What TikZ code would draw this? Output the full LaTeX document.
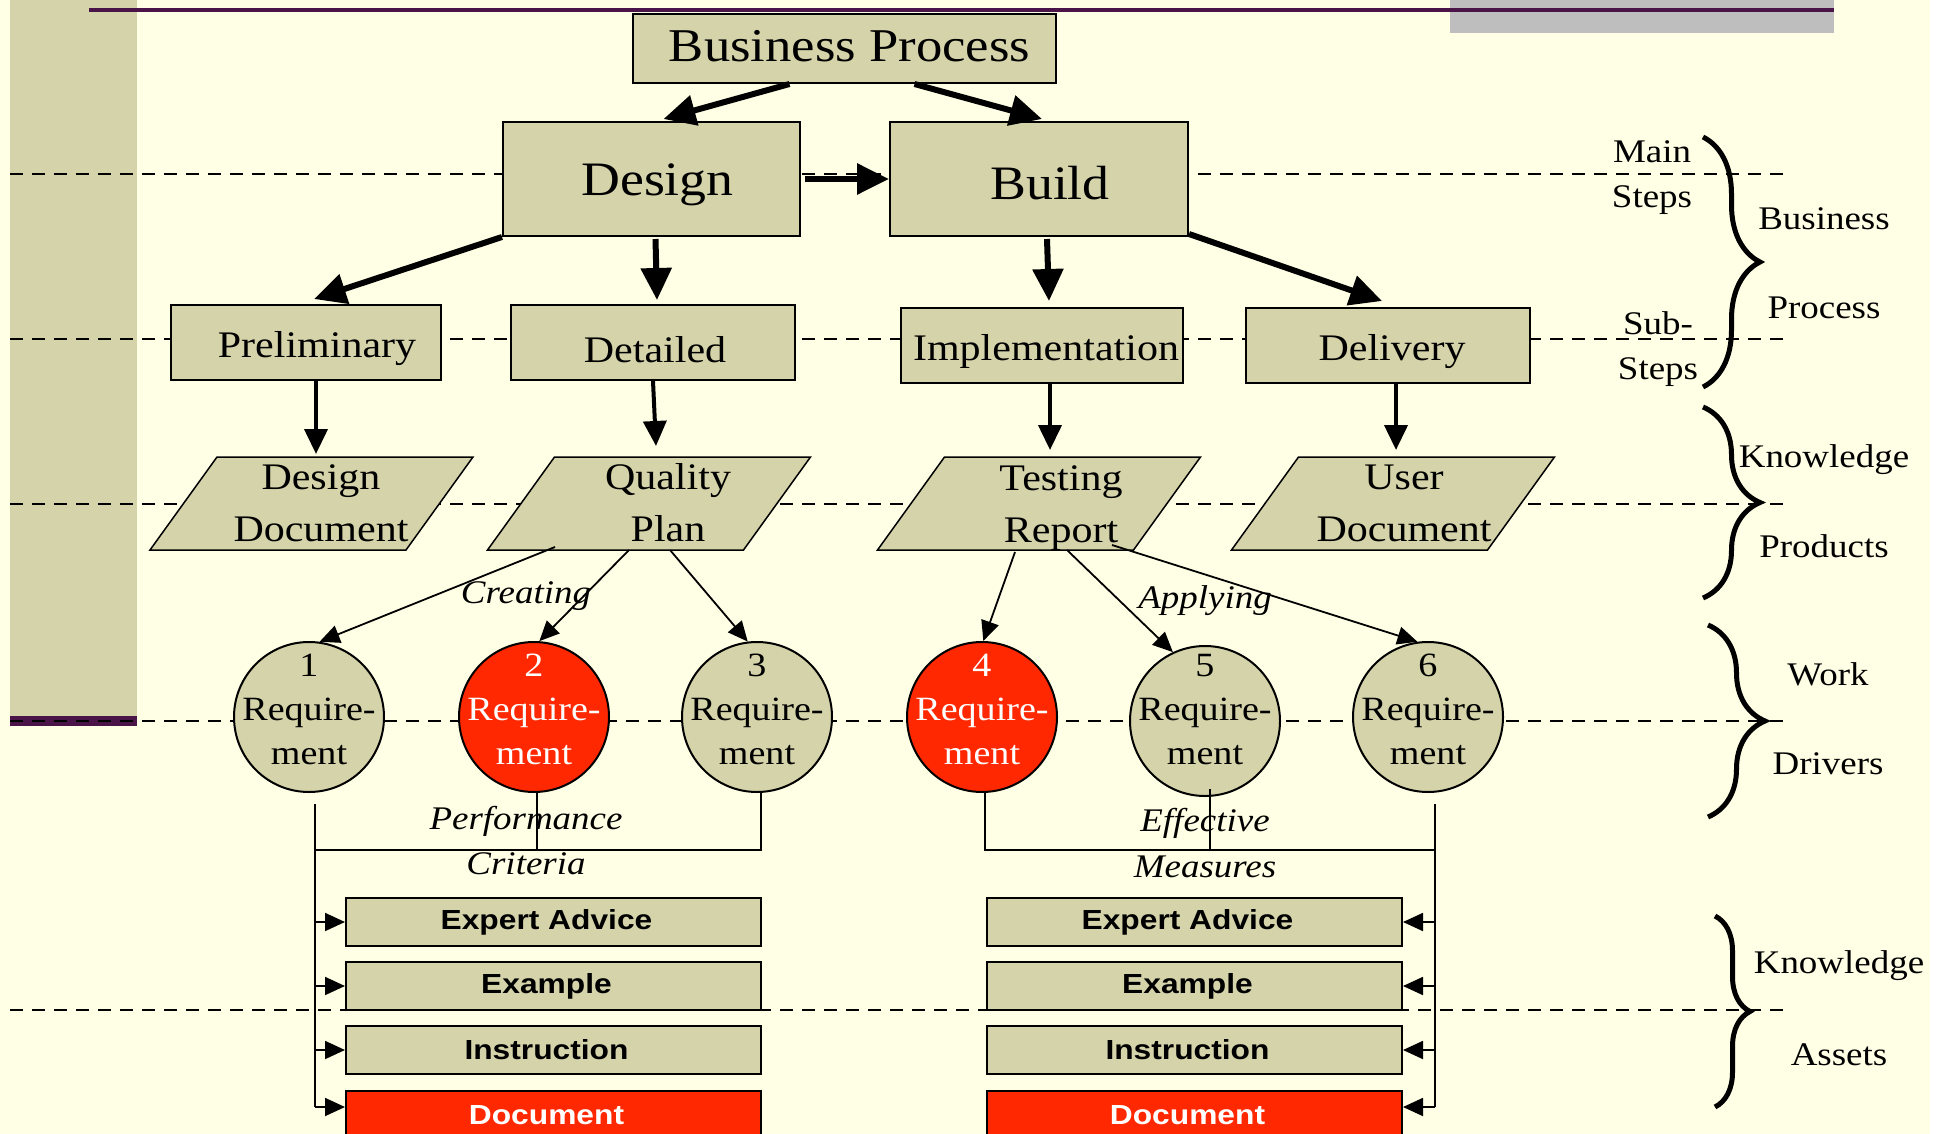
\documentclass[tikz,border=0pt]{standalone}
\usepackage{fontspec}
\setmainfont{Liberation Serif}[FakeStretch=1.12]
\newfontfamily\arialfont{Liberation Sans}[FakeStretch=1.15]
\usetikzlibrary{arrows.meta,decorations.pathreplacing}
\definecolor{cream}{RGB}{255,255,230}
\definecolor{khakifill}{RGB}{212,211,169}
\definecolor{redfill}{RGB}{255,40,0}
\definecolor{plum}{RGB}{75,20,72}
\definecolor{greyband}{RGB}{190,190,190}
\newcommand\drawpara[1]{\draw[line width=1.5pt, fill=khakifill] ([shift={(-161.5,46.5)}]#1) -- ([shift={(-94.5,-46.5)}]#1) -- ([shift={(161.5,-46.5)}]#1) -- ([shift={(94.5,46.5)}]#1) -- cycle;}
% move text inside a node by (dx right, dy down) without changing the node size
\newcommand\mvtxt[3]{\hspace*{#1}\raisebox{-#2}[\height][\depth]{#3}}
\newcommand\reqtxt[2]{\raisebox{#2}[\height][\depth]{\begin{tabular}{@{}c@{}}#1\\Require-\\ment\end{tabular}}}
\newcommand\abtxt[1]{#1\hspace*{14pt}}
\begin{document}
\begin{tikzpicture}[x=1pt,y=-1pt,
  box/.style={draw=black, line width=2pt, fill=khakifill, inner sep=0pt},
  fA/.style={font=\fontsize{47}{56}\selectfont},
  fB/.style={font=\fontsize{48}{58}\selectfont},
  fC/.style={font=\fontsize{37.5}{52}\selectfont},
  itl/.style={font=\fontsize{33}{43}\selectfont\itshape},
  side/.style={font=\fontsize{33}{45}\selectfont, align=center},
  req/.style={circle, draw=black, line width=2pt, fill=khakifill, minimum size=150pt, inner sep=-40pt, font=\fontsize{34}{44}\selectfont},
  redreq/.style={req, fill=redfill, text=white},
  abox/.style={draw=black, line width=2pt, fill=khakifill, minimum width=415pt, minimum height=48pt, inner sep=0pt, font=\fontsize{27.6}{34}\arialfont\bfseries},
  rbox/.style={abox, fill=redfill, text=white},
  dashline/.style={line width=2.5pt, dash pattern=on 13pt off 9pt},
  thickarrow/.style={line width=6pt, -{Triangle[length=32pt,width=30pt]}},
  medarrow/.style={line width=4pt, -{Triangle[length=25pt,width=23pt]}},
  thinarrow/.style={line width=1.8pt, -{Triangle[length=20pt,width=18pt]}},
  plainline/.style={line width=1.8pt},
  bracestyle/.style={line width=5pt, decorate}
]
\useasboundingbox (0,0) rectangle (1946,1134);
\fill[white] (0,0) rectangle (1946,1134);
\fill[cream] (0,0) rectangle (1930,1134);
\fill[khakifill] (10,0) rectangle (137,726);
\fill[plum] (10,716) rectangle (137,726);
\fill[greyband] (1450,0) rectangle (1834,33);
\draw[plum, line width=4pt] (89,10) -- (1834,10);
\foreach \yy in {174,339,504,721,1010} \draw[dashline] (10,\yy) -- (1789,\yy);

% main boxes
\node[box, minimum width=423pt, minimum height=69pt, fA] (bp) at (844.5,48.5) {\mvtxt{10pt}{-2pt}{Business Process}};
\node[box, minimum width=297pt, minimum height=114pt, fB] (design) at (651.5,179) {\mvtxt{12pt}{6pt}{Design}};
\node[box, minimum width=298pt, minimum height=114pt, fB] (build) at (1039,179) {\mvtxt{22pt}{4pt}{Build}};
\node[box, minimum width=270pt, minimum height=75pt, fC] (prelim) at (306,342.5) {\mvtxt{22pt}{6pt}{Preliminary}};
\node[box, minimum width=284pt, minimum height=75pt, fC] (detailed) at (653,342.5) {\mvtxt{4pt}{7pt}{Detailed}};
\node[box, minimum width=282pt, minimum height=75pt, fC] (impl) at (1042,345.5) {\mvtxt{8pt}{6pt}{Implementation}};
\node[box, minimum width=284pt, minimum height=75pt, fC] (deliv) at (1388,345.5) {\mvtxt{8pt}{6pt}{Delivery}};

% parallelograms
\coordinate (pdd) at (311.5,503.5); \drawpara{pdd}
\coordinate (pqp) at (649,503.5); \drawpara{pqp}
\coordinate (ptr) at (1039,503.5); \drawpara{ptr}
\coordinate (pud) at (1393,503.5); \drawpara{pud}
\node[fC, align=center, inner sep=0pt] (dd) at (321,503) {Design\\Document};
\node[fC, align=center, inner sep=0pt] (qp) at (668,503) {Quality\\Plan};
\node[fC, align=center, inner sep=0pt] (tr) at (1061,508) {Testing\\Report};
\node[fC, align=center, inner sep=0pt] (ud) at (1404,503) {User\\Document};
\coordinate (ddtop) at (316,454);
\coordinate (qptop) at (656,446);
\coordinate (trtop) at (1050,450);
\coordinate (udtop) at (1396,450);

% requirement circles
\node[req] (r1) at (309,717) {\reqtxt{1}{5pt}};
\node[redreq] (r2) at (534,717) {\reqtxt{2}{5pt}};
\node[req] (r3) at (757,717) {\reqtxt{3}{5pt}};
\node[redreq] (r4) at (982,717) {\reqtxt{4}{5pt}};
\node[req] (r5) at (1205,721) {\reqtxt{5}{9pt}};
\node[req] (r6) at (1428,717) {\reqtxt{6}{5pt}};

% thick arrows
\draw[thickarrow] ([xshift=-55pt]bp.south) -- ([xshift=12pt,yshift=2pt]design.north);
\draw[thickarrow] ([xshift=70pt]bp.south) -- ([xshift=3pt,yshift=2pt]build.north);
\draw[thickarrow] ([xshift=4pt]design.east) -- (build.west);
\draw[thickarrow] (design.south west) -- ([xshift=8pt,yshift=5pt]prelim.north);
\draw[thickarrow] ([xshift=4pt,yshift=-2pt]design.south) -- ([xshift=4pt,yshift=4pt]detailed.north);
\draw[thickarrow] ([xshift=8pt,yshift=-2pt]build.south) -- ([xshift=7pt,yshift=6pt]impl.north);
\draw[thickarrow] ([yshift=3pt]build.south east) -- ([xshift=-6pt,yshift=6pt]deliv.north);

% medium arrows
\draw[medarrow] (prelim.south -| ddtop) -- (ddtop);
\draw[medarrow] (detailed.south) -- (qptop);
\draw[medarrow] (impl.south -| trtop) -- (trtop);
\draw[medarrow] (deliv.south -| udtop) -- (udtop);

% thin arrows to requirements
\coordinate (qpa) at (555,547);
\coordinate (qpb) at (629,550);
\coordinate (qpc) at (670,550);
\coordinate (tra) at (1015,552);
\coordinate (trb) at (1067,550);
\coordinate (trc) at (1112,545);
\draw[thinarrow] (qpa) -- (r1.82);
\draw[thinarrow] (qpb) -- (r2.86);
\draw[thinarrow] (qpc) -- (r3.97);
\draw[thinarrow] (tra) -- (r4.89);
\draw[thinarrow] (trb) -- (r5.115);
\draw[thinarrow] (trc) -- (r6.98);

% italic labels
\node[itl] (creating) at (526,596) {Creating};
\node[itl] (applying) at (1205,601) {Applying};
\node[itl] (perf) at (526,821) {Performance};
\node[itl] (crit) at (526,864) {Criteria};
\node[itl] (effect) at (1205,823) {Effective};
\node[itl] (meas) at (1205,867) {Measures};

% knowledge asset boxes
\node[abox] (ea1) at (553.5,922) {\abtxt{Expert Advice}};
\node[abox] (ex1) at (553.5,986) {\abtxt{Example}};
\node[abox] (in1) at (553.5,1050) {\abtxt{Instruction}};
\node[rbox] (doc1) at (553.5,1115) {\abtxt{Document}};
\node[abox] (ea2) at (1194.5,922) {\abtxt{Expert Advice}};
\node[abox] (ex2) at (1194.5,986) {\abtxt{Example}};
\node[abox] (in2) at (1194.5,1050) {\abtxt{Instruction}};
\node[rbox] (doc2) at (1194.5,1115) {\abtxt{Document}};

% left bracket and spine
\coordinate (lh) at (315,850);
\coordinate (lstop) at (315,804);
\coordinate (lsbot) at (315,1107);
\draw[plainline] (lstop) -- (lsbot);
\draw[plainline] ([xshift=4pt]r3.south) -- ([xshift=4pt]r3.south |- lh) -- (lh);
\draw[plainline] ([xshift=3pt]r2.south) -- ([xshift=3pt]r2.south |- lh);
\draw[thinarrow] (lstop |- ea1.west) -- (ea1.west);
\draw[thinarrow] (lstop |- ex1.west) -- (ex1.west);
\draw[thinarrow] (lstop |- in1.west) -- (in1.west);
\draw[thinarrow] (lsbot) -- (lsbot -| doc1.west);

% right bracket and spine
\coordinate (rh) at (1435,850);
\coordinate (rstop) at (1435,804);
\coordinate (rsbot) at (1435,1107);
\draw[plainline] (rstop) -- (rsbot);
\draw[plainline] ([xshift=3pt]r4.south) -- ([xshift=3pt]r4.south |- rh) -- (rh);
\draw[plainline] ([xshift=5pt,yshift=8pt]r5.south) -- ([xshift=5pt]r5.south |- rh);
\draw[thinarrow] (rstop |- ea2.east) -- (ea2.east);
\draw[thinarrow] (rstop |- ex2.east) -- (ex2.east);
\draw[thinarrow] (rstop |- in2.east) -- (in2.east);
\draw[thinarrow] (rsbot) -- (rsbot -| doc2.east);

% braces and side labels
\draw[bracestyle, decoration={brace, amplitude=57pt}] (1703,137) -- (1703,387);
\draw[bracestyle, decoration={brace, amplitude=57pt}] (1703,407) -- (1703,598);
\draw[bracestyle, decoration={brace, amplitude=57pt}] (1708,625) -- (1708,817);
\draw[bracestyle, decoration={brace, amplitude=35pt}] (1715,916) -- (1715,1107);
\node[side] (mainsteps) at (1652,178) {Main\\Steps};
\node[side] (substeps) at (1658,349) {Sub-\\Steps};
\node[side] (busi) at (1824,219) {Business};
\node[side] (proc) at (1824,308) {Process};
\node[side] (know1) at (1824,460) {Knowledge};
\node[side] (prod) at (1824,546) {Products};
\node[side] (work) at (1828,674) {Work};
\node[side] (driv) at (1828,764) {Drivers};
\node[side] (know2) at (1839,966) {Knowledge};
\node[side] (asset) at (1839,1055) {Assets};
\end{tikzpicture}
\end{document}
